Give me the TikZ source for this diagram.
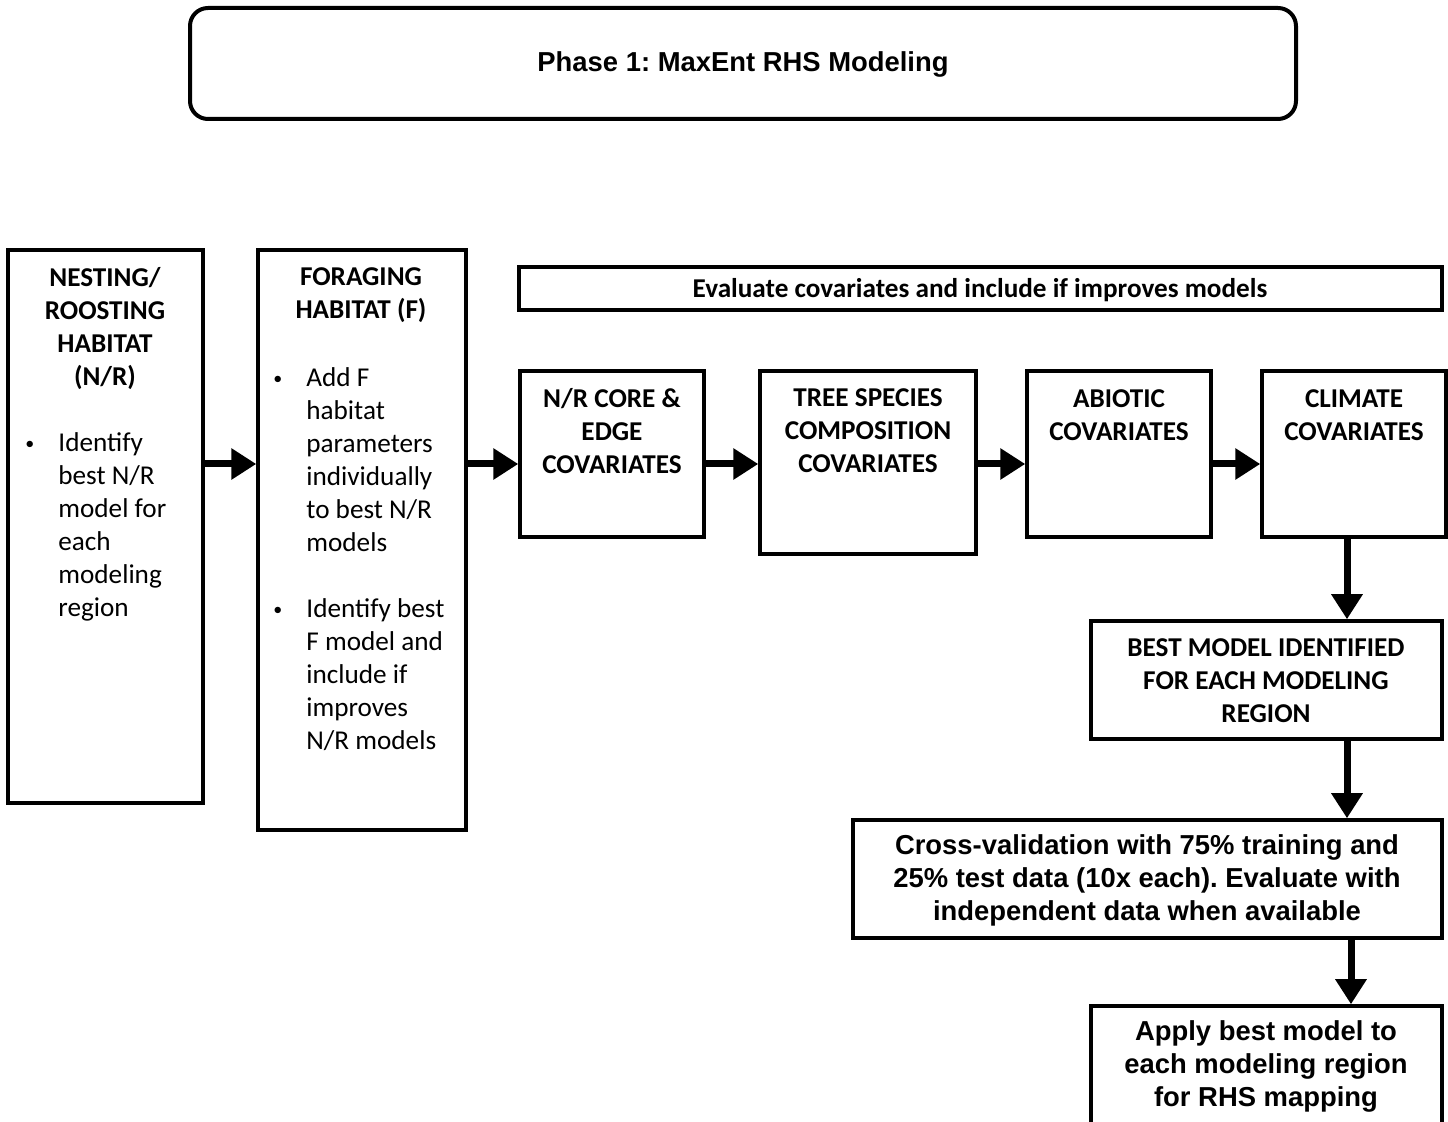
\documentclass[tikz,border=0pt]{standalone}
\usepackage{fontspec}
\setmainfont{Carlito}
\newfontfamily\arialfont{Liberation Sans}
\usetikzlibrary{arrows.meta,fit}
\frenchspacing
\newcommand{\bul}{\raisebox{0.15ex}{\fontsize{9}{9}\selectfont\textbullet}}

\begin{document}
\begin{tikzpicture}[x=0.5pt, y=-0.5pt]
    \tikzset{
        box/.style  = {draw, line width=1.75pt, inner sep=0pt},
        head/.style = {font=\bfseries\fontsize{13.6}{16.5}\selectfont, align=center, inner sep=0pt},
        body/.style = {font=\fontsize{13.6}{16.5}\selectfont, inner sep=0pt},
        bold/.style = {font=\arialfont\bfseries\fontsize{13.7}{16.5}\selectfont, align=center, inner sep=0pt},
        flow/.style = {line width=3.5pt, -{Triangle[length=12.5pt, width=15pt]}}
    }
    \useasboundingbox (0,0) rectangle (1448,1122);

    \node[box, rounded corners=9pt, line width=2pt, fit={(190,8) (1296,119)}] (phase) {};
    \node[bold] (phasetext) at (743,64) {Phase 1: MaxEnt RHS Modeling};

    \node[box, fit={(8,250) (203,803)}] (nr) {};
    \node[head] (nrhead) at (105,329) {NESTING/\\ROOSTING\\HABITAT\\(N/R)};
    \node[body, anchor=west] (nrtext) at (25,527) {\begin{tabular}{@{}p{16.5pt}@{}l@{}}
        \bul & Identify\\ & best N/R\\ & model for\\ & each\\ & modeling\\ & region
    \end{tabular}};

    \node[box, fit={(258,250) (466,830)}] (forage) {};
    \node[head] (foragehead) at (361,295.5) {FORAGING\\HABITAT (F)};
    \node[body, anchor=west] (foragetext) at (273,561) {\begin{tabular}{@{}p{16.5pt}@{}l@{}}
        \bul & Add F\\ & habitat\\ & parameters\\ & individually\\ & to best N/R\\ & models\\ & \\
        \bul & Identify best\\ & F model and\\ & include if\\ & improves\\ & N/R models
    \end{tabular}};

    \node[box, fit={(519,267) (1442,310)}] (evalbar) {};
    \node[head] (evaltext) at (980,290) {Evaluate covariates and include if improves models};

    \node[box, fit={(520,371) (704,537)}] (core) {};
    \node[head] (corehead) at (612,431) {N/R CORE \&\\EDGE\\COVARIATES};
    \node[box, fit={(760,371) (976,554)}] (tree) {};
    \node[head] (treehead) at (868,431) {TREE SPECIES\\COMPOSITION\\COVARIATES};
    \node[box, fit={(1027,371) (1211,537)}] (abiotic) {};
    \node[head] (abiotichead) at (1119,415) {ABIOTIC\\COVARIATES};
    \node[box, fit={(1262,371) (1446,537)}] (climate) {};
    \node[head] (climatehead) at (1354,415) {CLIMATE\\COVARIATES};

    \node[box, fit={(1091,621) (1442,739)}] (best) {};
    \node[head] (besttext) at (1266,681) {BEST MODEL IDENTIFIED\\FOR EACH MODELING\\REGION};
    \node[box, fit={(853,820) (1442,938)}] (xval) {};
    \node[bold] (xvaltext) at (1147,880) {Cross-validation with 75\% training and\\25\% test data (10x each). Evaluate with\\independent data when available};
    \node[box, fit={(1091,1006) (1442,1130)}] (apply) {};
    \node[bold] (applytext) at (1266,1066) {Apply best model to\\each modeling region\\for RHS mapping};

    \coordinate (row) at (0,464);
    \draw[flow] (nr.east |- row) -- (forage.west |- row);
    \draw[flow] (forage.east |- row) -- (core.west |- row);
    \draw[flow] (core.east |- row) -- (tree.west |- row);
    \draw[flow] (tree.east |- row) -- (abiotic.west |- row);
    \draw[flow] (abiotic.east |- row) -- (climate.west |- row);

    \coordinate (col) at (1347,0);
    \coordinate (col2) at (1351,0);
    \draw[flow] (climate.south -| col) -- (best.north -| col);
    \draw[flow] (best.south -| col) -- (xval.north -| col);
    \draw[flow] (xval.south -| col2) -- (apply.north -| col2);
\end{tikzpicture}
\end{document}
